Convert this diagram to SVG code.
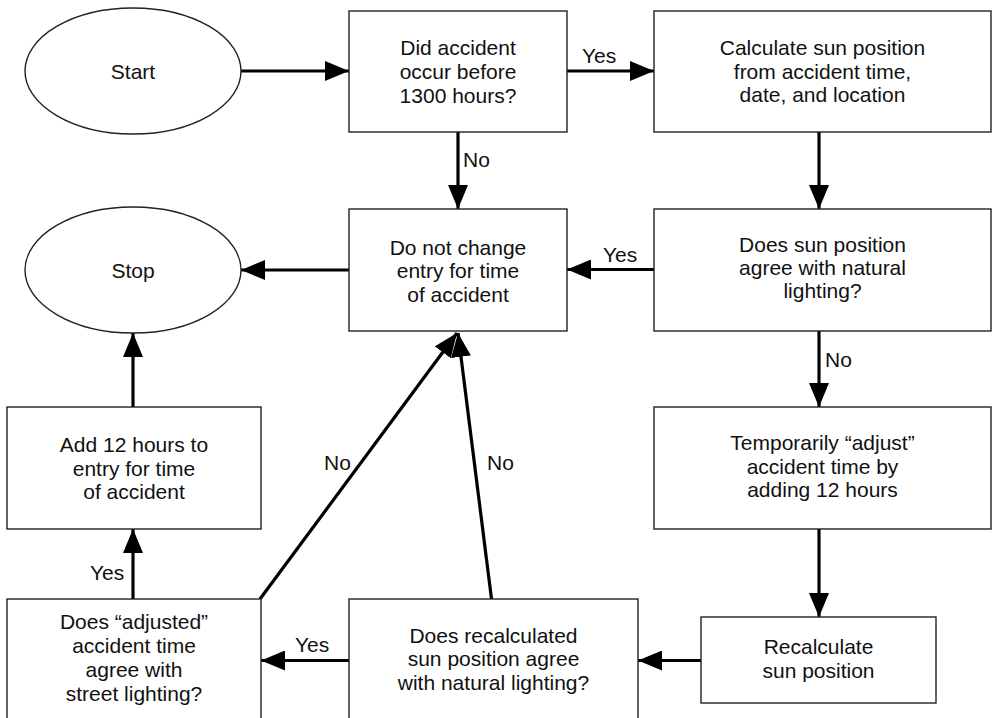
<svg xmlns="http://www.w3.org/2000/svg" width="995" height="718" viewBox="0 0 995 718">
<defs>
<marker id="ah" markerUnits="userSpaceOnUse" markerWidth="24" markerHeight="20" refX="24" refY="10" orient="auto" viewBox="0 0 24 20">
<path d="M0,0 L24,10 L0,20 z" fill="#000"/>
</marker>
<style>
.n{fill:#fff;stroke:#222;stroke-width:1.4}
text{font-family:"Liberation Sans",Arial,sans-serif;font-size:21px;fill:#111;text-anchor:middle}
.lbl{text-anchor:start}
.c{stroke:#000;stroke-width:3.2;fill:none}
.ca{stroke:#000;stroke-width:3.2;fill:none;marker-end:url(#ah)}
</style>
</defs>
<rect width="995" height="718" fill="#fff"/>
<g id="connectors">
<line class="ca" x1="241" y1="71" x2="349" y2="71"/>
<line class="ca" x1="567" y1="71" x2="654" y2="71"/>
<text class="lbl" x="582" y="63">Yes</text>
<line class="ca" x1="458" y1="132" x2="458" y2="209"/>
<text class="lbl" x="463" y="167">No</text>
<line class="ca" x1="819" y1="132" x2="819" y2="209"/>
<line class="ca" x1="654" y1="269.5" x2="567" y2="269.5"/>
<text class="lbl" x="603" y="262">Yes</text>
<line class="ca" x1="349" y1="270" x2="241" y2="270"/>
<line class="ca" x1="819" y1="331" x2="819" y2="407"/>
<text class="lbl" x="825" y="367">No</text>
<line class="ca" x1="819" y1="529" x2="819" y2="617"/>
<line class="ca" x1="701" y1="660.5" x2="638" y2="660.5"/>
<line class="ca" x1="349" y1="660.5" x2="261" y2="660.5"/>
<text class="lbl" x="295" y="652">Yes</text>
<line class="ca" x1="133" y1="599" x2="133" y2="529"/>
<text class="lbl" x="90" y="580">Yes</text>
<line class="ca" x1="133" y1="407" x2="133" y2="333"/>
<line class="ca" x1="260" y1="599" x2="457" y2="333"/>
<text class="lbl" x="324" y="470">No</text>
<line class="ca" x1="491.5" y1="599" x2="458" y2="333"/>
<text class="lbl" x="487" y="470">No</text>
</g>
<g id="start">
<ellipse class="n" cx="133" cy="71" rx="108" ry="63"/>
<text x="133" y="79">Start</text>
</g>
<g id="stop">
<ellipse class="n" cx="133" cy="270" rx="108" ry="63"/>
<text x="133" y="278">Stop</text>
</g>
<g id="before1300">
<rect class="n" x="349" y="11" width="218" height="121"/>
<text x="458" y="55">Did accident</text>
<text x="458" y="79">occur before</text>
<text x="458" y="103">1300 hours?</text>
</g>
<g id="calcsun">
<rect class="n" x="654" y="11" width="337" height="121"/>
<text x="822.5" y="55">Calculate sun position</text>
<text x="822.5" y="79">from accident time,</text>
<text x="822.5" y="102">date, and location</text>
</g>
<g id="nochange">
<rect class="n" x="349" y="209" width="218" height="122"/>
<text x="458" y="255">Do not change</text>
<text x="458" y="278">entry for time</text>
<text x="458" y="302">of accident</text>
</g>
<g id="sunagree">
<rect class="n" x="654" y="209" width="337" height="122"/>
<text x="822.5" y="252">Does sun position</text>
<text x="822.5" y="275">agree with natural</text>
<text x="822.5" y="298">lighting?</text>
</g>
<g id="adjust">
<rect class="n" x="654" y="407" width="337" height="122"/>
<text x="822.5" y="450">Temporarily “adjust”</text>
<text x="822.5" y="474">accident time by</text>
<text x="822.5" y="497">adding 12 hours</text>
</g>
<g id="recalc">
<rect class="n" x="701" y="617" width="235" height="86"/>
<text x="818.5" y="654">Recalculate</text>
<text x="818.5" y="678">sun position</text>
</g>
<g id="recalcagree">
<rect class="n" x="349" y="599" width="289" height="122"/>
<text x="493.5" y="643">Does recalculated</text>
<text x="493.5" y="666">sun position agree</text>
<text x="493.5" y="690">with natural lighting?</text>
</g>
<g id="streetagree">
<rect class="n" x="7" y="599" width="254" height="122"/>
<text x="134" y="629">Does “adjusted”</text>
<text x="134" y="653">accident time</text>
<text x="134" y="677">agree with</text>
<text x="134" y="701">street lighting?</text>
</g>
<g id="add12">
<rect class="n" x="7" y="407" width="254" height="122"/>
<text x="134" y="452">Add 12 hours to</text>
<text x="134" y="476">entry for time</text>
<text x="134" y="499">of accident</text>
</g>
</svg>
